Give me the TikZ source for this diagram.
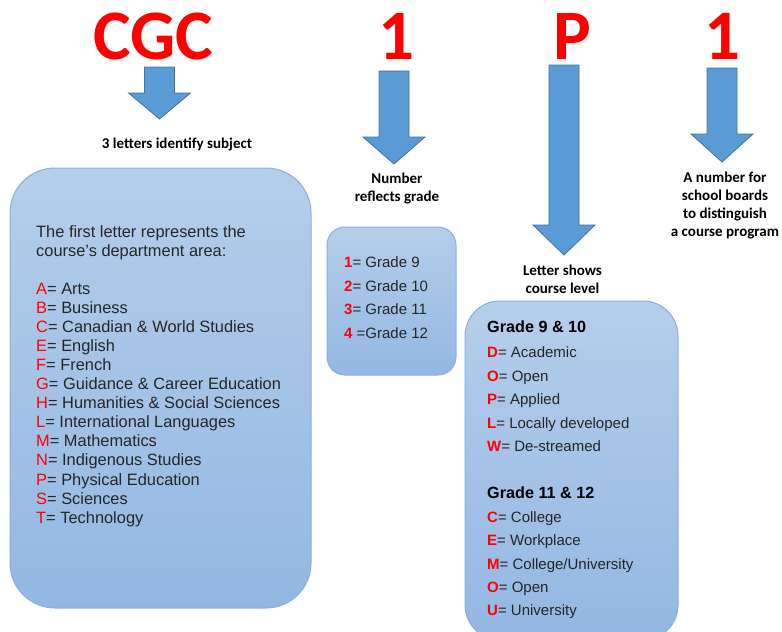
\documentclass[tikz,border=0pt]{standalone}
\usepackage{fontspec}
\setmainfont{Liberation Sans}
\newfontfamily\calibri{Carlito}
\usetikzlibrary{positioning}

\definecolor{arrowblue}{HTML}{5B9BD5}
\definecolor{arrowedge}{HTML}{41719C}
\definecolor{boxtop}{RGB}{181,206,234}
\definecolor{boxbottom}{RGB}{147,183,227}
\definecolor{boxedge}{RGB}{136,175,221}
\definecolor{codered}{HTML}{FF0000}
\definecolor{ink}{HTML}{262626}

\tikzset{
  codeletter/.style={font=\calibri\bfseries\fontsize{71}{71}\selectfont, text=codered, inner sep=0pt, anchor=base},
  caption/.style={font=\calibri\bfseries\fontsize{15}{18}\selectfont, align=center, inner sep=0pt, anchor=north},
  infobox/.style={draw=boxedge, line width=1pt, top color=boxtop, bottom color=boxbottom},
  blockarrow/.style={draw=arrowedge, fill=arrowblue, line width=0.8pt, line join=miter},
  item/.style={font=\fontsize{15}{19}\selectfont, text=ink, inner sep=0pt, anchor=base west},
  bigitem/.style={item, font=\fontsize{16.4}{19}\selectfont},
  heading/.style={item, font=\bfseries\fontsize{16.2}{19}\selectfont, text=black},
}
\newcommand{\red}[1]{\textcolor{codered}{#1}}
% block arrow pointing down: centre x, top, neck, tip
\newcommand{\blockdown}[4]{%
  \draw[blockarrow] (#1-15,#2) -- (#1+15,#2) -- (#1+15,#3) -- (#1+31,#3)
    -- (#1,#4) -- (#1-31,#3) -- (#1-15,#3) -- cycle;}

\begin{document}
\begin{tikzpicture}[x=1pt,y=-1pt]
\useasboundingbox (0,0) rectangle (782,632);

% the code
\node[codeletter] (subject) at (153,59) {CGC};
\node[codeletter] (grade) at (396,59) {1};
\node[codeletter] (level) at (572,59) {P};
\node[codeletter] (program) at (722,59) {1};

% arrows
\blockdown{159.5}{67}{93}{119}
\blockdown{394}{71}{137}{164}
\blockdown{564}{65}{225}{255}
\blockdown{722}{68}{134}{162}

% captions
\node[caption] (subjectcap) at (177,137.5) {3 letters identify subject};
\node[caption] (gradecap) at (397,172.5) {Number\\reflects grade};
\node[caption] (levelcap) at (562.5,264.5) {Letter shows\\course level};
\node[caption] (programcap) at (725,172) {A number for\\school boards\\to distinguish\\a course program};

% subject box
\draw[infobox, rounded corners=45pt] (10,168) rectangle (311,608);
\node[bigitem] (intro1) at (36,237) {The first letter represents the};
\node[bigitem] (intro2) at (36,256.5) {course's department area:};
\foreach \k/\t [count=\i from 0] in {A/Arts, B/Business, C/Canadian \& World Studies,
    E/English, F/French, G/Guidance \& Career Education, H/Humanities \& Social Sciences,
    L/International Languages, M/Mathematics, N/Indigenous Studies,
    P/Physical Education, S/Sciences, T/Technology}
  \node[bigitem] (dept\k) at (36,294.7+19.03*\i) {\red{\k}= \t};

% grade box
\draw[infobox, rounded corners=18pt] (327,227) rectangle (456,375);
\node[item] (grade9) at (344,267.7) {\red{\textbf{1}}= Grade 9};
\node[item] (grade10) at (344,291.1) {\red{\textbf{2}}= Grade 10};
\node[item] (grade11) at (344,314.5) {\red{\textbf{3}}= Grade 11};
\node[item] (grade12) at (344,338) {\red{\textbf{4}} =Grade 12};

% level box
\draw[infobox, rounded corners=35pt] (465,301) rectangle (678,640);
\node[heading] (lower) at (487,332.7) {Grade 9 \& 10};
\foreach \k/\t [count=\i from 0] in {D/Academic, O/Open, P/Applied, L/Locally developed, W/De-streamed}
  \node[item] (lower\i) at (487,357.7+23.5*\i) {\red{\textbf{\k}}= \t};
\node[heading] (upper) at (487,498.3) {Grade 11 \& 12};
\foreach \k/\t [count=\i from 0] in {C/College, E/Workplace, M/{College/University}, O/Open, U/University}
  \node[item] (upper\i) at (487,522.3+23.4*\i) {\red{\textbf{\k}}= \t};

\end{tikzpicture}
\end{document}
